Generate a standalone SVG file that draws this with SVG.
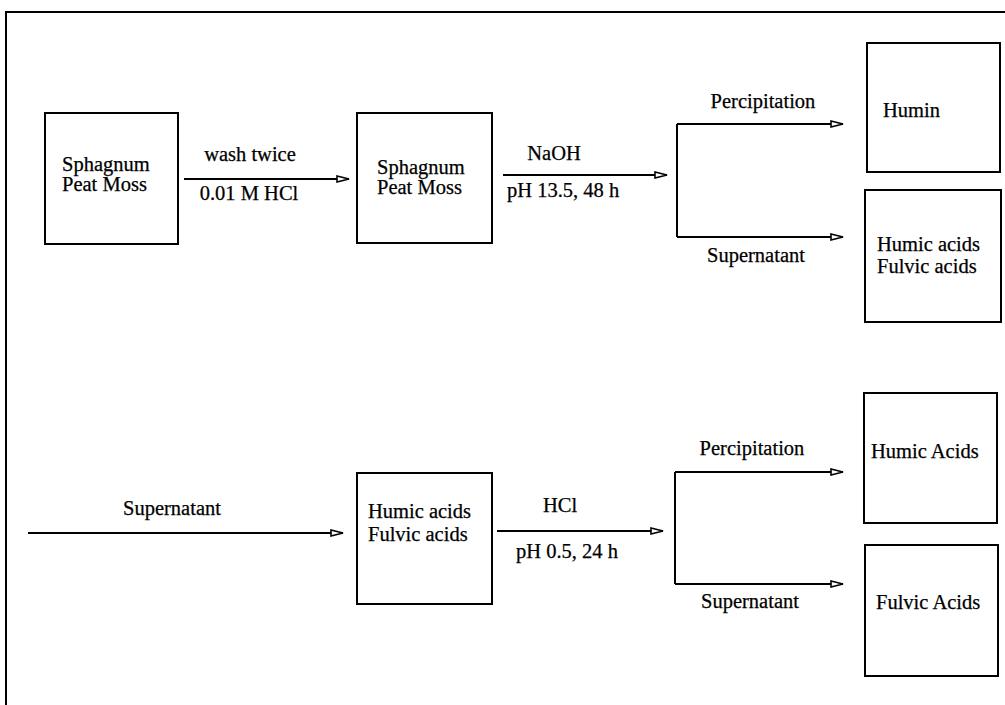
<svg xmlns="http://www.w3.org/2000/svg" width="1005" height="705" viewBox="0 0 1005 705">
<style>
.box{fill:#fff;stroke:#000;stroke-width:2}
.frame{fill:none;stroke:#000;stroke-width:2}
.ln{fill:none;stroke:#000;stroke-width:2}
.arr{fill:none;stroke:#000;stroke-width:2;marker-end:url(#ah)}
text{font-family:"Liberation Serif","Times New Roman",serif;font-size:20.5px;fill:#000;stroke:#000;stroke-width:0.25}
.c{text-anchor:middle}
</style>
<defs>
<marker id="ah" markerUnits="userSpaceOnUse" markerWidth="16" markerHeight="10" refX="13" refY="4" orient="auto">
<path d="M1,1 L13,4 L1,7 Z" fill="#fff" stroke="#000" stroke-width="1.6" stroke-linejoin="miter"/>
</marker>
</defs>
<rect width="1005" height="705" fill="#fff"/>
<path class="frame" d="M6,705 L6,12 L1005,12"/>

<g id="connectors">
<line class="arr" x1="184" y1="179" x2="349" y2="179"/>
<line class="arr" x1="503" y1="175" x2="667" y2="175"/>
<path class="ln" d="M677,124 L677,237"/>
<line class="arr" x1="677" y1="124" x2="843" y2="124"/>
<line class="arr" x1="677" y1="237" x2="843" y2="237"/>
<line class="arr" x1="28" y1="533" x2="343" y2="533"/>
<line class="arr" x1="497" y1="531" x2="663" y2="531"/>
<path class="ln" d="M675,472 L675,584"/>
<line class="arr" x1="675" y1="472" x2="843" y2="472"/>
<line class="arr" x1="675" y1="584" x2="843" y2="584"/>
<text class="c" x="250" y="161">wash twice</text>
<text class="c" x="249" y="200">0.01 M HCl</text>
<text class="c" x="554" y="160">NaOH</text>
<text x="507" y="197">pH 13.5, 48 h</text>
<text class="c" x="763" y="108">Percipitation</text>
<text class="c" x="756" y="262">Supernatant</text>
<text class="c" x="172" y="515">Supernatant</text>
<text class="c" x="560" y="512">HCl</text>
<text x="516" y="558">pH 0.5, 24 h</text>
<text class="c" x="752" y="455">Percipitation</text>
<text class="c" x="750" y="608">Supernatant</text>
</g>

<g id="node-peat1">
<rect class="box" x="45" y="113" width="133" height="131"/>
<text x="62" y="171">Sphagnum</text>
<text x="62" y="191">Peat Moss</text>
</g>
<g id="node-peat2">
<rect class="box" x="357" y="113" width="135" height="130"/>
<text x="377" y="174">Sphagnum</text>
<text x="377" y="194">Peat Moss</text>
</g>
<g id="node-humin">
<rect class="box" x="867" y="43" width="133" height="129"/>
<text x="883" y="117">Humin</text>
</g>
<g id="node-hafa1">
<rect class="box" x="865" y="190" width="136" height="132"/>
<text x="877" y="251">Humic acids</text>
<text x="877" y="273">Fulvic acids</text>
</g>
<g id="node-hafa2">
<rect class="box" x="357" y="473" width="135" height="131"/>
<text x="368" y="518">Humic acids</text>
<text x="368" y="541">Fulvic acids</text>
</g>
<g id="node-humic">
<rect class="box" x="864" y="393" width="133" height="130"/>
<text x="871" y="458">Humic Acids</text>
</g>
<g id="node-fulvic">
<rect class="box" x="865" y="545" width="133" height="131"/>
<text x="876" y="609">Fulvic Acids</text>
</g>
</svg>
